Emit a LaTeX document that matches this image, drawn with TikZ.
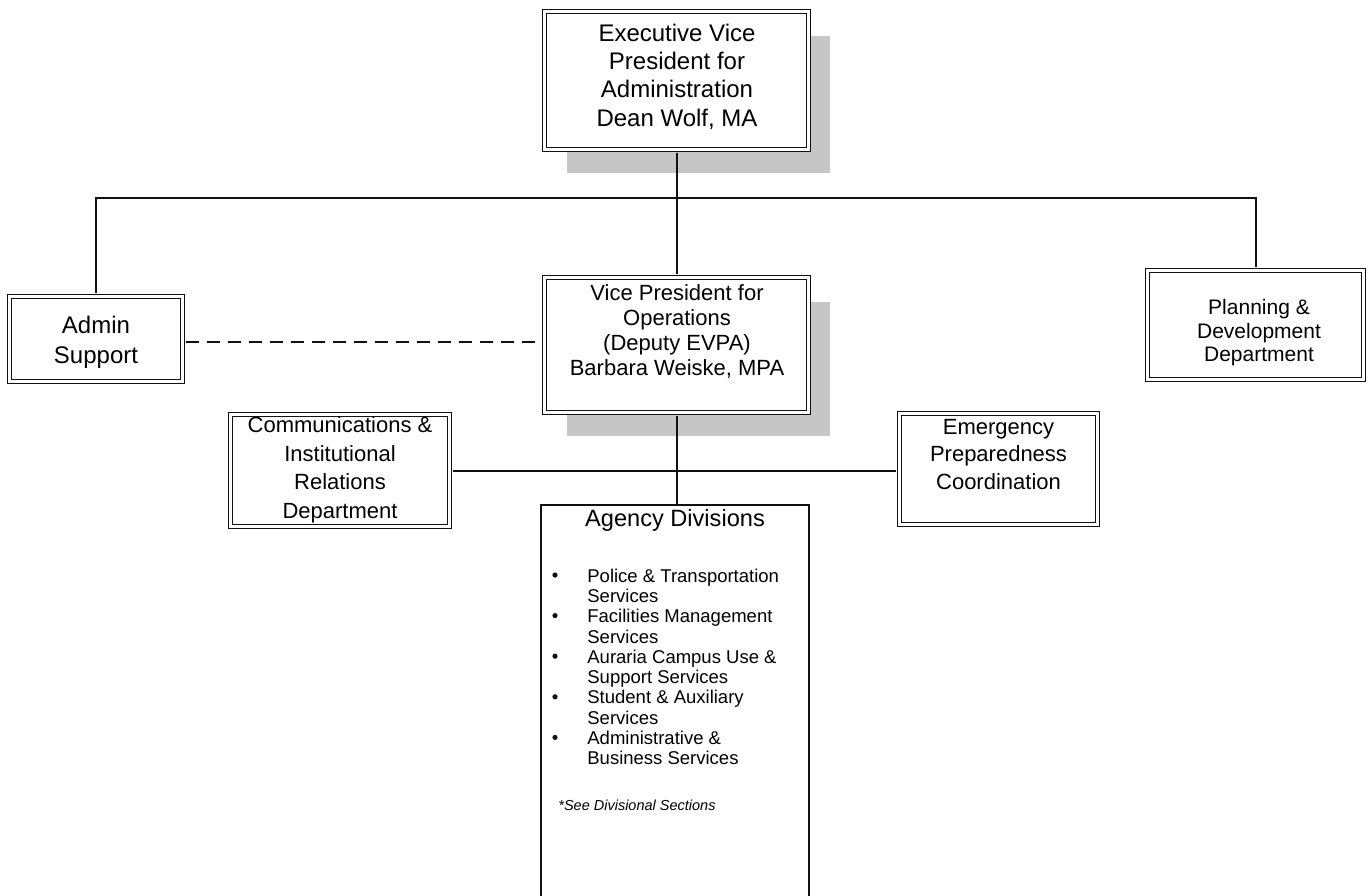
\documentclass[tikz,border=0pt]{standalone}
\usepackage{fontspec}
\setmainfont{Liberation Sans}
\usetikzlibrary{positioning,shadows}

\definecolor{ocshadow}{HTML}{C6C6C6}
\definecolor{ocline}{HTML}{111111}

\begin{document}
\begin{tikzpicture}[
  x=0.5pt, y=-0.5pt,
  ocbox/.style={draw=ocline, double, double distance=1.3pt, line width=0.7pt, fill=white, inner sep=0pt},
  ocshade/.style={drop shadow={shadow xshift=11pt, shadow yshift=-12pt, fill=ocshadow, opacity=1}},
  oclist/.style={draw=ocline, line width=1.1pt, fill=white, inner sep=0pt},
  octext/.style={align=center, inner sep=0pt},
  ocitem/.style={align=left, inner sep=0pt, anchor=north west, font=\fontsize{9.25}{10.15}\selectfont},
  oclink/.style={draw=ocline, line width=1pt},
  ocend/.style={shorten <=1.35pt, shorten >=1.35pt}
]

  \useasboundingbox (0,0) rectangle (1369,895);
  \fill[white] (0,0) rectangle (1369,895);
  \clip (0,0) rectangle (1369,895);

  % --------------------------------------------------------------------
  % Boxes
  % --------------------------------------------------------------------

  \node[ocbox, ocshade, minimum width=131.8pt, minimum height=68.8pt] (evp) at (676.5,80.5) {};
  \node[ocbox, ocshade, minimum width=131.8pt, minimum height=67.3pt] (vp) at (676.5,345) {};
  \node[ocbox, minimum width=86.3pt, minimum height=42.3pt] (admin) at (96,339) {};
  \node[ocbox, minimum width=107.8pt, minimum height=54.3pt] (plan) at (1255.5,325) {};
  \node[ocbox, minimum width=109.3pt, minimum height=55.8pt] (comm) at (340,470.5) {};
  \node[ocbox, minimum width=98.8pt, minimum height=55.3pt] (emer) at (998.5,469) {};
  \node[oclist, anchor=north, minimum width=133.9pt, minimum height=250pt] (agency) at (675,504) {};

  % --------------------------------------------------------------------
  % Box texts
  % --------------------------------------------------------------------

  \node[octext, font=\fontsize{12}{14.2}\selectfont] (evptxt) at (677,76.5)
    {Executive Vice\\President for\\Administration\\Dean Wolf, MA};
  \node[octext, font=\fontsize{11}{12.5}\selectfont] (vptxt) at (677,331.5)
    {Vice President for\\Operations\\(Deputy EVPA)\\Barbara Weiske, MPA};
  \node[octext, font=\fontsize{12}{15}\selectfont] (admintxt) at (96,342)
    {Admin\\Support};
  \node[octext, font=\fontsize{10.5}{11.75}\selectfont] (plantxt) at (1259,333)
    {Planning \&\\Development\\Department};
  \node[octext, font=\fontsize{11}{14.25}\selectfont] (commtxt) at (340,470)
    {Communications \&\\Institutional\\Relations\\Department};
  \node[octext, font=\fontsize{11}{13.75}\selectfont] (emertxt) at (998.5,454.5)
    {Emergency\\Preparedness\\Coordination};
  \node[octext, font=\fontsize{11.8}{14}\selectfont] (agencytxt) at (675,520)
    {Agency Divisions};

  \node[ocitem] (item0) at (587,568.3) {Police \& Transportation\\Services};
  \node[ocitem] (item1) at (587,608.9) {Facilities Management\\Services};
  \node[ocitem] (item2) at (587,649.5) {Auraria Campus Use \&\\Support Services};
  \node[ocitem] (item3) at (587,690.1) {Student \& Auxiliary\\Services};
  \node[ocitem] (item4) at (587,730.7) {Administrative \&\\Business Services};

  \foreach \i in {0,...,4}{
    \fill[ocline] (555,{575+40.6*\i}) circle (1.3pt);
  }

  \node[octext, anchor=west, font=\fontsize{7.25}{8}\selectfont\itshape] (seenote) at (558,805)
    {*See Divisional Sections};

  % --------------------------------------------------------------------
  % Connectors
  % --------------------------------------------------------------------

  \coordinate (bus) at (676.5,198);

  \draw[oclink, ocend] (evp.south) -- (vp.north);
  \draw[oclink, ocend] (admin.north) |- (bus) -| (plan.north);
  \draw[oclink, ocend, dash pattern=on 6.5pt off 4pt]
    ([yshift=-1.5pt]admin.east) -- ([yshift=-1.5pt]admin.east -| vp.west);
  \draw[oclink, ocend] (comm.east) -- (comm.east -| emer.west);
  \draw[oclink, shorten <=1.35pt] (vp.south) -- (vp.south |- agency.north);

\end{tikzpicture}
\end{document}
